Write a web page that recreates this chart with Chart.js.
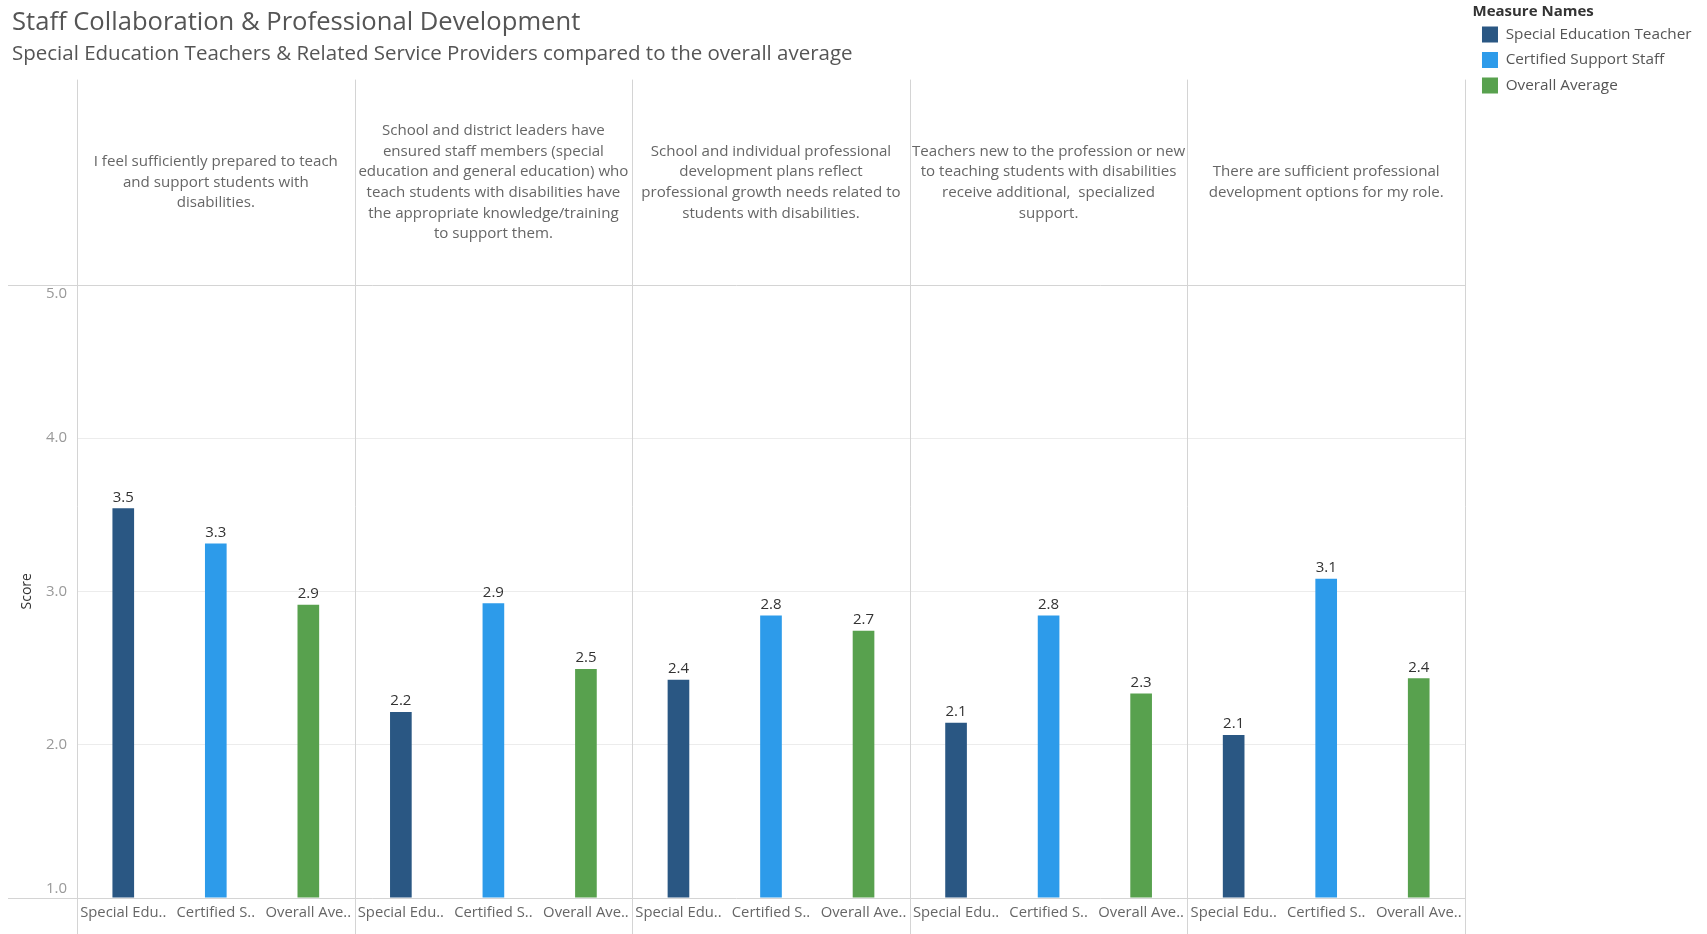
<!DOCTYPE html>
<html>
<head>
<meta charset="utf-8">
<script src="https://cdn.jsdelivr.net/npm/chart.js@4.4.1/dist/chart.umd.min.js"></script>
<style>
  html, body { margin: 0; padding: 0; background: #fff; }
</style>
</head>
<body>
<canvas id="chart" width="1707" height="934"></canvas>
<script>
const FONT = '"Open Sans", sans-serif';

// survey statements (already wrapped as in the dashboard)
const questions = [
    ['I feel sufficiently prepared to teach', 'and support students with', 'disabilities.'],
    ['School and district leaders have', 'ensured staff members (special', 'education and general education) who', 'teach students with disabilities have', 'the appropriate knowledge/training', 'to support them.'],
    ['School and individual professional', 'development plans reflect', 'professional growth needs related to', 'students with disabilities.'],
    ['Teachers new to the profession or new', 'to teaching students with disabilities', 'receive additional,  specialized', 'support.'],
    ['There are sufficient professional', 'development options for my role.']
];
const measures = ['Special Education Teacher', 'Certified Support Staff', 'Overall Average'];
const shortLabels = ['Special Edu..', 'Certified S..', 'Overall Ave..'];
const colors = ['#2a5783', '#2d9bea', '#58a14e'];

const specialEdTeacher = [3.54, 2.21, 2.42, 2.14, 2.06];
const certifiedSupport = [3.31, 2.92, 2.84, 2.84, 3.08];
const overallAverage = [2.91, 2.49, 2.74, 2.33, 2.43];
const yTicks = [1, 2, 3, 4, 5];

const series = [specialEdTeacher, certifiedSupport, overallAverage];
const labels = [];
questions.forEach(() => shortLabels.forEach(l => labels.push(l)));

const datasets = measures.map((name, m) => ({
    label: name,
    data: labels.map((_, i) => (i % 3 === m ? series[m][Math.floor(i / 3)] : null)),
    backgroundColor: colors[m],
    barThickness: 21,
    grouped: false,
    xAxisID: 'x',
    yAxisID: 'y'
}));

const lineColor = '#d4d4d4';

// header cells, panel dividers and the long top/bottom rules
const panelPlugin = {
    id: 'panels',
    beforeDatasetsDraw(chart) {
        const { ctx, chartArea, scales } = chart;
        const xh = scales.xh, y = scales.y;
        const w = (xh.right - xh.left) / questions.length;
        ctx.save();
        ctx.strokeStyle = lineColor;
        ctx.lineWidth = 1;
        ctx.beginPath();
        for (let i = 0; i <= questions.length; i++) {
            const x = Math.round(xh.left + i * w) + 0.5;
            ctx.moveTo(x, xh.top);
            ctx.lineTo(x, chart.height);
        }
        [yTicks[0], yTicks[yTicks.length - 1]].forEach(v => {
            const yy = Math.round(y.getPixelForValue(v)) + 0.5;
            ctx.moveTo(8, yy);
            ctx.lineTo(chartArea.right, yy);
        });
        ctx.stroke();

        ctx.fillStyle = '#666';
        ctx.font = '15.1px ' + FONT;
        ctx.textAlign = 'center';
        ctx.textBaseline = 'middle';
        const lh = 20.6;
        const cy = (xh.top + xh.bottom) / 2;
        questions.forEach((lines, i) => {
            const cx = xh.getPixelForValue(i);
            const y0 = cy - (lines.length - 1) * lh / 2;
            lines.forEach((t, k) => ctx.fillText(t, cx, y0 + k * lh));
        });
        ctx.restore();
    },
    // value labels above the bars
    afterDatasetsDraw(chart) {
        const { ctx } = chart;
        ctx.save();
        ctx.fillStyle = '#333';
        ctx.font = '15px ' + FONT;
        ctx.textAlign = 'center';
        ctx.textBaseline = 'alphabetic';
        chart.data.datasets.forEach((ds, d) => {
            chart.getDatasetMeta(d).data.forEach((el, i) => {
                const v = ds.data[i];
                if (v == null) return;
                ctx.fillText(v.toFixed(1), el.x, el.y - 7);
            });
        });
        ctx.restore();
    }
};

new Chart(document.getElementById('chart').getContext('2d'), {
    type: 'bar',
    data: { labels: labels, datasets: datasets },
    plugins: [panelPlugin],
    options: {
        responsive: false,
        animation: false,
        layout: { padding: { left: 12, right: 5.5, top: 0, bottom: 0 } },
        plugins: {
            title: {
                display: true,
                text: 'Staff Collaboration & Professional Development',
                align: 'start',
                color: '#555',
                font: { family: FONT, size: 25.6, weight: 'normal' },
                padding: { top: 7.5, bottom: 2 }
            },
            subtitle: {
                display: true,
                text: 'Special Education Teachers & Related Service Providers compared to the overall average',
                align: 'start',
                color: '#555',
                font: { family: FONT, size: 20.5, weight: 'normal' },
                padding: { top: 1.5, bottom: 13.3 }
            },
            legend: {
                position: 'right',
                align: 'start',
                title: {
                    display: true,
                    position: 'start',
                    text: 'Measure Names',
                    color: '#333',
                    font: { family: FONT, size: 15, weight: 'bold', lineHeight: 1 },
                    padding: { top: 4, bottom: -2 }
                },
                labels: {
                    boxWidth: 16,
                    boxHeight: 16,
                    padding: 9.5,
                    color: '#555',
                    font: { family: FONT, size: 15.3 }
                }
            },
            tooltip: { enabled: false }
        },
        scales: {
            x: {
                grid: { display: false, drawTicks: false },
                border: { display: false },
                ticks: {
                    color: '#666',
                    font: { family: FONT, size: 14.8 },
                    padding: 6,
                    maxRotation: 0,
                    minRotation: 0,
                    autoSkip: false
                },
                afterFit: s => { s.height = 36.5; }
            },
            xh: {
                type: 'category',
                position: 'top',
                labels: questions.map(q => q.join(' ')),
                offset: true,
                grid: { display: false, drawTicks: false },
                border: { display: false },
                ticks: { display: false },
                afterFit: s => { s.height = 205.5; }
            },
            y: {
                min: yTicks[0],
                max: yTicks[yTicks.length - 1],
                afterBuildTicks: s => { s.ticks = yTicks.map(v => ({ value: v })); },
                grid: {
                    drawTicks: false,
                    color: c => (c.tick && c.tick.value > yTicks[0] && c.tick.value < yTicks[yTicks.length - 1]) ? '#ececec' : 'rgba(0,0,0,0)'
                },
                border: { display: false },
                ticks: {
                    color: '#999',
                    font: { family: FONT, size: 15 },
                    padding: 10,
                    callback: v => {
                        const t = Number(v).toFixed(1);
                        if (v === yTicks[yTicks.length - 1]) return ['', t];
                        if (v === yTicks[0]) return [t, ''];
                        return t;
                    }
                },
                title: {
                    display: true,
                    text: 'Score',
                    color: '#333',
                    font: { family: FONT, size: 14 },
                    padding: { top: 7, bottom: 0 }
                },
                afterFit: s => { s.width = 65; }
            },
            // empty strip between the plot and the legend
            gap: {
                type: 'linear',
                position: 'right',
                grid: { display: false, drawTicks: false },
                border: { display: false },
                ticks: { display: false },
                afterFit: s => { s.width = 7.5; }
            }
        }
    }
});
</script>
</body>
</html>
